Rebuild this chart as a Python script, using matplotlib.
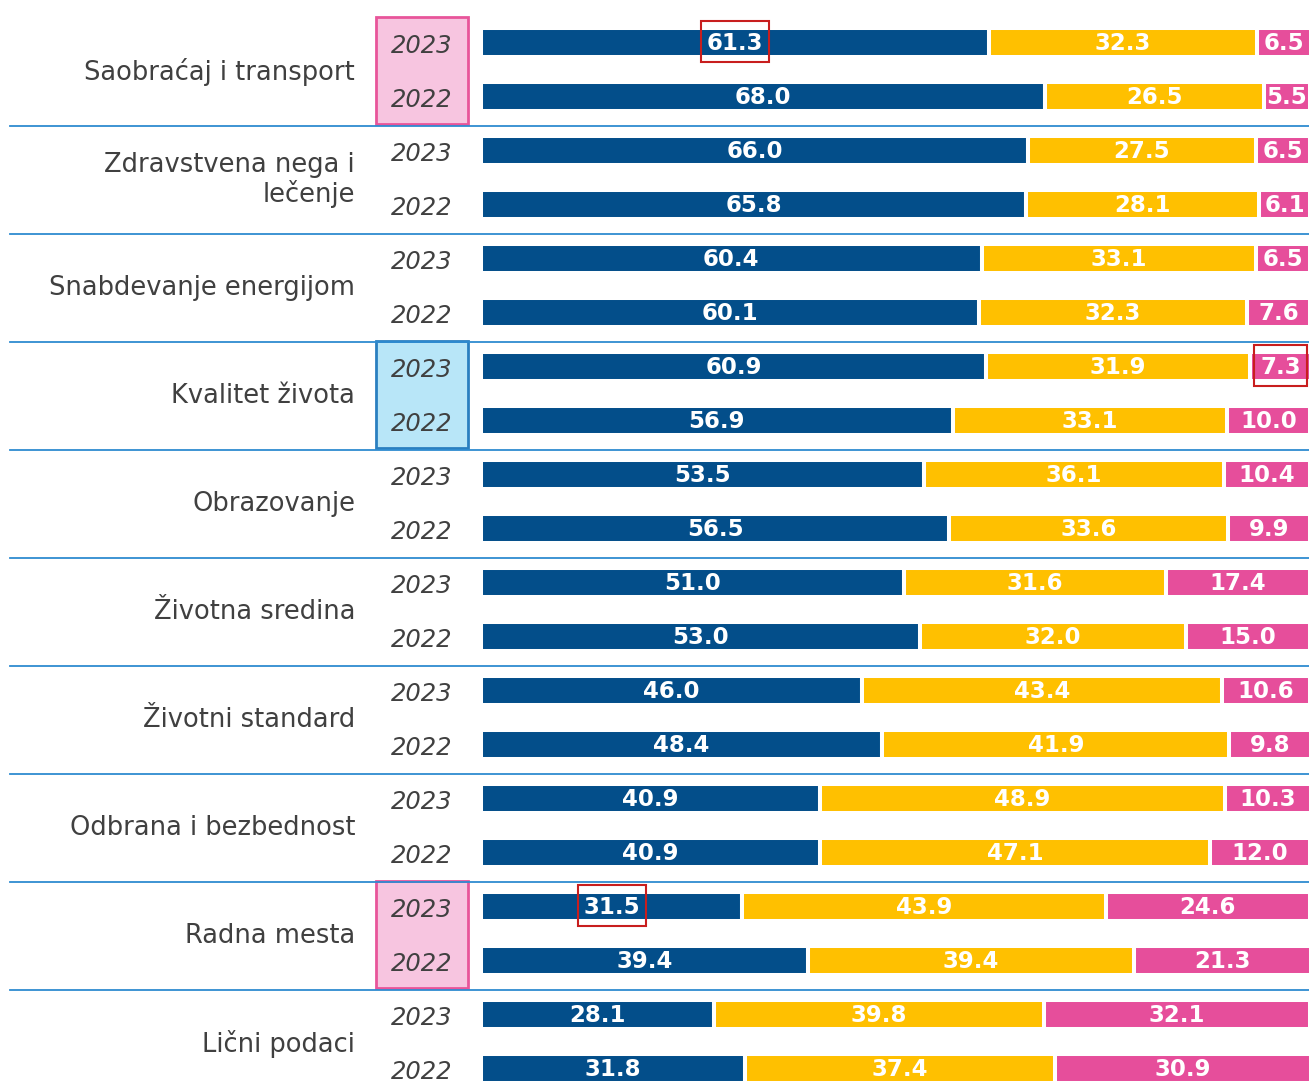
import matplotlib.pyplot as plt
from matplotlib.patches import Rectangle

categories = ['Saobraćaj i transport', 'Zdravstvena nega i\nlečenje', 'Snabdevanje energijom',
              'Kvalitet života', 'Obrazovanje', 'Životna sredina', 'Životni standard',
              'Odbrana i bezbednost', 'Radna mesta', 'Lični podaci']
years = ['2023', '2022']

pos_2023 = [61.3, 66.0, 60.4, 60.9, 53.5, 51.0, 46.0, 40.9, 31.5, 28.1]
mid_2023 = [32.3, 27.5, 33.1, 31.9, 36.1, 31.6, 43.4, 48.9, 43.9, 39.8]
neg_2023 = [6.5, 6.5, 6.5, 7.3, 10.4, 17.4, 10.6, 10.3, 24.6, 32.1]

pos_2022 = [68.0, 65.8, 60.1, 56.9, 56.5, 53.0, 48.4, 40.9, 39.4, 31.8]
mid_2022 = [26.5, 28.1, 32.3, 33.1, 33.6, 32.0, 41.9, 47.1, 39.4, 37.4]
neg_2022 = [5.5, 6.1, 7.6, 10.0, 9.9, 15.0, 9.8, 12.0, 21.3, 30.9]

colors = ['#034e8a', '#ffc000', '#e64e9b']

W, H = 1309, 1092
ROW = 108

fig = plt.figure(figsize=(W / 100, H / 100), dpi=100)
fig.patch.set_facecolor('white')

# decoration axes in pixel coordinates
deco = fig.add_axes([0, 0, 1, 1])
deco.set_xlim(0, W)
deco.set_ylim(H, 0)
deco.axis('off')

# bar axes
ax = fig.add_axes([481 / W, 0, 828 / W, 1])
ax.set_xlim(0, 99.9)
ax.set_ylim(H, 0)
ax.axis('off')
ax.patch.set_alpha(0)

# highlight boxes behind year labels
highlights = {0: ('#f7c5e0', '#e8559a'), 3: ('#b8e6f8', '#2a7fc0'), 8: ('#f7c5e0', '#e8559a')}
for k, (fc, ec) in highlights.items():
    deco.add_patch(Rectangle((376, 17 + ROW * k), 92, 107, facecolor=fc, edgecolor=ec, linewidth=2))

for k, cat in enumerate(categories):
    top = ROW * k
    deco.text(355, top + 72, cat, ha='right', va='center', fontsize=18.5, color='#404040',
              linespacing=1.12)
    deco.text(422, top + 46, years[0], ha='center', va='center', fontsize=17.5,
              style='italic', color='#404040')
    deco.text(422, top + 100, years[1], ha='center', va='center', fontsize=17.5,
              style='italic', color='#404040')
    if k < len(categories) - 1:
        deco.plot([10, W], [top + 126, top + 126], color='#2e8bd0', linewidth=1.3)

for series, yoff in (((pos_2023, mid_2023, neg_2023), 42), ((pos_2022, mid_2022, neg_2022), 96)):
    for k in range(len(categories)):
        y = ROW * k + yoff
        left = 0
        for vals, c in zip(series, colors):
            v = vals[k]
            ax.barh(y, v, left=left, height=29, color=c, edgecolor='white', linewidth=2.9)
            ax.text(left + v / 2, y + 2, f'{v:.1f}', ha='center', va='center', color='white',
                    fontsize=16.5, fontweight='bold')
            left += v

# red call-out boxes around selected values
callouts = [(pos_2023[0] / 2, 0, 8.3), (pos_2023[3] + mid_2023[3] + neg_2023[3] / 2, 3, 6.4),
            (pos_2023[8] / 2, 8, 8.2)]
for xc, k, w in callouts:
    y = ROW * k + 42
    ax.add_patch(Rectangle((xc - w / 2, y - 21), w, 41, fill=False, edgecolor='#c81e1e',
                           linewidth=1.5, clip_on=False))

fig.savefig('out.png', dpi=100)
